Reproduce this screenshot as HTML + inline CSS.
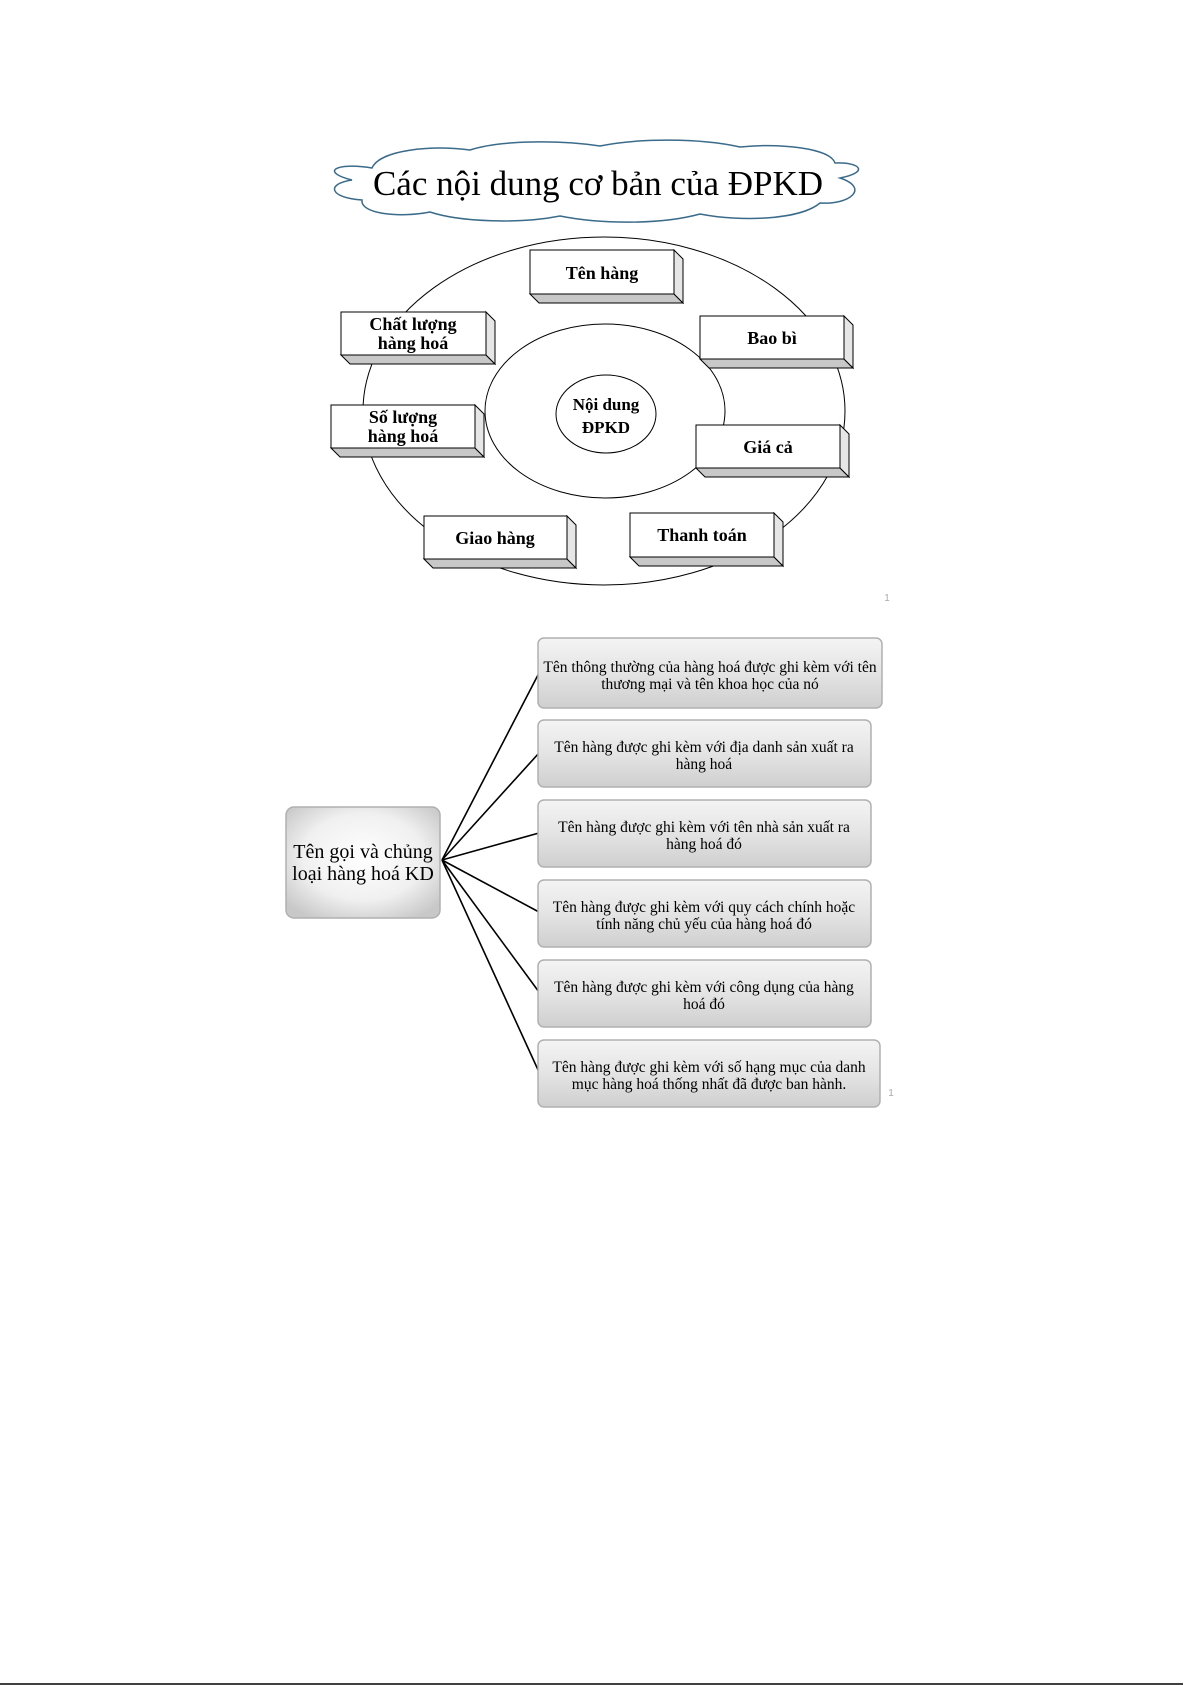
<!DOCTYPE html>
<html><head><meta charset="utf-8"><style>
html,body{margin:0;padding:0;background:#fff;}
svg{display:block;}
</style></head><body>
<svg width="1192" height="1685" viewBox="0 0 1192 1685" xmlns="http://www.w3.org/2000/svg">
<defs>
<radialGradient id="g1" cx="50%" cy="45%" r="65%">
<stop offset="0" stop-color="#ffffff"/><stop offset="0.6" stop-color="#f0f0f0"/><stop offset="1" stop-color="#c8c8c8"/>
</radialGradient>
<linearGradient id="g2" x1="0" y1="0" x2="0" y2="1">
<stop offset="0" stop-color="#f4f4f4"/><stop offset="0.5" stop-color="#e4e4e4"/><stop offset="1" stop-color="#cfcfcf"/>
</linearGradient>
</defs>
<g fill="#fff" stroke="#3a6b8a" stroke-width="1.5">
<path d="M372,168 C380,150 430,145 470,150 C500,140 560,140 600,146 C640,138 700,138 740,147 C780,143 830,148 835,163 C860,162 870,172 840,178 C870,188 850,205 820,203 C800,220 740,222 700,214 C660,225 600,224 560,216 C520,224 460,222 430,212 C400,218 360,214 362,200 C330,198 325,184 352,180 C320,172 335,162 372,168 Z"/>
</g>
<text x="598" y="195" text-anchor="middle" font-family="Liberation Serif, serif" font-size="35" fill="#000">Các nội dung cơ bản của ĐPKD</text>
<ellipse cx="604" cy="411" rx="241" ry="174" fill="none" stroke="#000" stroke-width="1"/>
<ellipse cx="605" cy="411" rx="120" ry="87" fill="none" stroke="#000" stroke-width="1"/>
<ellipse cx="606" cy="414" rx="50" ry="39" fill="#fff" stroke="#000" stroke-width="1"/>
<g font-family="Liberation Serif, serif" font-weight="bold" font-size="17" text-anchor="middle" fill="#000">
<text x="606" y="410">Nội dung</text>
<text x="606" y="433">ĐPKD</text>
</g>
<g stroke="#000" stroke-width="1">
<g><path d="M530,294 L539,303 L683,303 L674,294 Z" fill="#c8c8c8"/><path d="M674,250 L683,259 L683,303 L674,294 Z" fill="#e6e6e6"/><rect x="530" y="250" width="144" height="44" fill="#fff"/></g>
<g><path d="M341,355 L350,364 L495,364 L486,355 Z" fill="#c8c8c8"/><path d="M486,312 L495,321 L495,364 L486,355 Z" fill="#e6e6e6"/><rect x="341" y="312" width="145" height="43" fill="#fff"/></g>
<g><path d="M700,359 L709,368 L853,368 L844,359 Z" fill="#c8c8c8"/><path d="M844,316 L853,325 L853,368 L844,359 Z" fill="#e6e6e6"/><rect x="700" y="316" width="144" height="43" fill="#fff"/></g>
<g><path d="M331,448 L340,457 L484,457 L475,448 Z" fill="#c8c8c8"/><path d="M475,405 L484,414 L484,457 L475,448 Z" fill="#e6e6e6"/><rect x="331" y="405" width="144" height="43" fill="#fff"/></g>
<g><path d="M696,468 L705,477 L849,477 L840,468 Z" fill="#c8c8c8"/><path d="M840,425 L849,434 L849,477 L840,468 Z" fill="#e6e6e6"/><rect x="696" y="425" width="144" height="43" fill="#fff"/></g>
<g><path d="M424,559 L433,568 L576,568 L567,559 Z" fill="#c8c8c8"/><path d="M567,516 L576,525 L576,568 L567,559 Z" fill="#e6e6e6"/><rect x="424" y="516" width="143" height="43" fill="#fff"/></g>
<g><path d="M630,557 L639,566 L783,566 L774,557 Z" fill="#c8c8c8"/><path d="M774,513 L783,522 L783,566 L774,557 Z" fill="#e6e6e6"/><rect x="630" y="513" width="144" height="44" fill="#fff"/></g>
</g>
<g font-family="Liberation Serif, serif" font-weight="bold" font-size="18" text-anchor="middle" fill="#000">
<text x="602" y="279">Tên hàng</text>
<text x="413" y="330">Chất lượng</text>
<text x="413" y="349">hàng hoá</text>
<text x="772" y="344">Bao bì</text>
<text x="403" y="423">Số lượng</text>
<text x="403" y="442">hàng hoá</text>
<text x="768" y="453">Giá cả</text>
<text x="495" y="544">Giao hàng</text>
<text x="702" y="541">Thanh toán</text>
</g>
<text x="887" y="601" font-family="Liberation Sans, sans-serif" font-size="10" fill="#aaa" text-anchor="middle">1</text>
<g stroke="#000" stroke-width="1.6">
<line x1="442" y1="860" x2="539" y2="673"/>
<line x1="442" y1="860" x2="539" y2="753"/>
<line x1="442" y1="860" x2="539" y2="833"/>
<line x1="442" y1="860" x2="539" y2="912"/>
<line x1="442" y1="860" x2="539" y2="992"/>
<line x1="442" y1="860" x2="539" y2="1072"/>
</g>
<g stroke="#b0b0b0" stroke-width="1.5">
<rect x="286" y="807" width="154" height="111" rx="8" fill="url(#g1)"/>
<rect x="538" y="638" width="344" height="70" rx="6" fill="url(#g2)"/>
<rect x="538" y="720" width="333" height="67" rx="6" fill="url(#g2)"/>
<rect x="538" y="800" width="333" height="67" rx="6" fill="url(#g2)"/>
<rect x="538" y="880" width="333" height="67" rx="6" fill="url(#g2)"/>
<rect x="538" y="960" width="333" height="67" rx="6" fill="url(#g2)"/>
<rect x="538" y="1040" width="342" height="67" rx="6" fill="url(#g2)"/>
</g>
<g font-family="Liberation Serif, serif" font-size="20" text-anchor="middle" fill="#000">
<text x="363" y="858">Tên gọi và chủng</text>
<text x="363" y="880">loại hàng hoá KD</text>
</g>
<g font-family="Liberation Serif, serif" font-size="15.5" text-anchor="middle" fill="#000">
<text x="710" y="672">Tên thông thường của hàng hoá được ghi kèm với tên</text>
<text x="710" y="689">thương mại và tên khoa học của nó</text>
<text x="704" y="752">Tên hàng được ghi kèm với địa danh sản xuất ra</text>
<text x="704" y="769">hàng hoá</text>
<text x="704" y="832">Tên hàng được ghi kèm với tên nhà sản xuất ra</text>
<text x="704" y="849">hàng hoá đó</text>
<text x="704" y="912">Tên hàng được ghi kèm với quy cách chính hoặc</text>
<text x="704" y="929">tính năng chủ yếu của hàng hoá đó</text>
<text x="704" y="992">Tên hàng được ghi kèm với công dụng của hàng</text>
<text x="704" y="1009">hoá đó</text>
<text x="709" y="1072">Tên hàng được ghi kèm với số hạng mục của danh</text>
<text x="709" y="1089">mục hàng hoá thống nhất đã được ban hành.</text>
</g>
<text x="891" y="1096" font-family="Liberation Sans, sans-serif" font-size="10" fill="#aaa" text-anchor="middle">1</text>
<line x1="0" y1="1684" x2="1183" y2="1684" stroke="#000" stroke-width="1.5"/>
</svg>
</body></html>
